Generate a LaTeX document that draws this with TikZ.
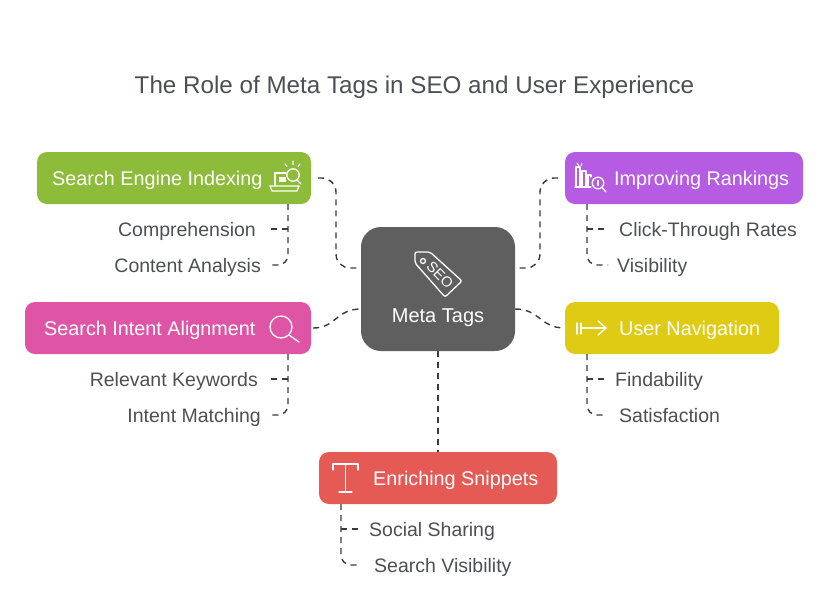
\documentclass[tikz,border=0pt]{standalone}
\usepackage{fontspec}
\setmainfont{Liberation Sans}
\usepackage{tikz}

\definecolor{leafgreen}{HTML}{8DBB3A}
\definecolor{rankpurple}{HTML}{B55CE2}
\definecolor{intentpink}{HTML}{DE55A6}
\definecolor{navyellow}{HTML}{E0CB14}
\definecolor{snipred}{HTML}{E55A55}
\definecolor{hubgray}{HTML}{5F5F5F}
\definecolor{inkgray}{HTML}{4C4F54}
\definecolor{linkgray}{HTML}{3A3A3A}

\tikzset{
	tagbox/.style={draw=none, rounded corners=10pt, minimum height=52pt, inner sep=0pt},
	boxtext/.style={anchor=west, inner sep=0pt, text=white, text height=14pt, text depth=0pt, font=\fontsize{19.8}{22}\selectfont},
	subtext/.style={inner sep=0pt, text=inkgray, text height=14pt, text depth=0pt, font=\fontsize{19.5}{22}\selectfont},
	link/.style={draw=linkgray, line width=1.4pt, dash pattern=on 6pt off 5pt},
	icon/.style={draw=white, line width=1.3pt, line cap=round, line join=round}
}

\begin{document}
\begin{tikzpicture}[x=1pt,y=-1pt]
	\useasboundingbox (0,0) rectangle (828,606);
	
	% Title
	\node[inner sep=0pt, text=inkgray, text height=17pt, text depth=0pt, font=\fontsize{24.2}{28}\selectfont] (title) at (414.5,85) {The Role of Meta Tags in SEO and User Experience};
	
	% Central box
	\node[fill=hubgray, rounded corners=20pt, minimum width=154pt, minimum height=124pt, inner sep=0pt] (hub) at (438,289) {};
	\node[inner sep=0pt, text=white, text height=14pt, text depth=0pt, font=\fontsize{20}{22}\selectfont] (hubtext) at (438,315) {Meta Tags};
	
	% Coloured boxes
	\node[tagbox, fill=leafgreen, minimum width=274pt] (engine) at (174,178) {};
	\node[tagbox, fill=rankpurple, minimum width=238pt] (rank) at (684,178) {};
	\node[tagbox, fill=intentpink, minimum width=286pt] (intent) at (168,328) {};
	\node[tagbox, fill=navyellow, minimum width=214pt] (nav) at (672,328) {};
	\node[tagbox, fill=snipred, minimum width=238pt] (snip) at (438,478) {};
	
	% Box labels
	\node[boxtext] (enginetext) at (52,178) {Search Engine Indexing};
	\node[boxtext] (ranktext) at (614,178) {Improving Rankings};
	\node[boxtext] (intenttext) at (44,328) {Search Intent Alignment};
	\node[boxtext] (navtext) at (619,328) {User Navigation};
	\node[boxtext] (sniptext) at (373,478) {Enriching Snippets};
	
	% Sub labels
	\node[subtext, anchor=east] (compre) at (256,229) {Comprehension};
	\node[subtext, anchor=east] (content) at (261,265) {Content Analysis};
	\node[subtext, anchor=west] (click) at (619,229) {Click-Through Rates};
	\node[subtext, anchor=west] (visib) at (617,265) {Visibility};
	\node[subtext, anchor=east] (keywords) at (258,379) {Relevant Keywords};
	\node[subtext, anchor=east] (matching) at (261,415) {Intent Matching};
	\node[subtext, anchor=west] (find) at (615,379) {Findability};
	\node[subtext, anchor=west] (satis) at (619,415) {Satisfaction};
	\node[subtext, anchor=west] (social) at (369,529) {Social Sharing};
	\node[subtext, anchor=west] (searchvis) at (374,565) {Search Visibility};
	
	% Anchor points on the central box
	\coordinate (hubnw) at (361,268);
	\coordinate (hubne) at (515,268);
	\coordinate (hubsw) at (361,309);
	\coordinate (hubse) at (515,309);
	
	% Points where the side links leave the trunks
	\coordinate (enginejoin) at (288,229);
	\coordinate (rankjoin) at (587,229);
	\coordinate (intentjoin) at (288,379);
	\coordinate (navjoin) at (587,379);
	\coordinate (snipjoin) at (341,529);
	
	% Links from the central box
	\draw[link, rounded corners=14pt, shorten <=7pt] (engine.east) -- (336,178) -- (336,268) -- (hubnw);
	\draw[link, rounded corners=14pt, shorten <=7pt] (rank.west) -- (540,178) -- (540,268) -- (hubne);
	\draw[link, shorten <=2pt] (intent.east) .. controls (336,328) and (336,309) .. (hubsw);
	\draw[link] (hubse) .. controls (540,309) and (540,328) .. (nav.west);
	\draw[link] (hub.south) -- (snip.north);
	
	% Trunks under the boxes
	\draw[link, rounded corners=10pt] (enginejoin |- engine.south) -- (288,265) -- ([xshift=9pt]content.east);
	\draw[link, rounded corners=10pt] (rankjoin |- rank.south) -- (587,265) -- ([xshift=-9pt]visib.west);
	\draw[link, rounded corners=10pt] (intentjoin |- intent.south) -- (288,415) -- ([xshift=9pt]matching.east);
	\draw[link, rounded corners=10pt] (navjoin |- nav.south) -- (587,415) -- ([xshift=-12pt]satis.west);
	\draw[link, rounded corners=10pt] (snipjoin |- snip.south) -- (341,565) -- ([xshift=-14pt]searchvis.west);
	
	% Side links
	\draw[link, shorten >=14pt] (enginejoin) -- (compre.east);
	\draw[link, shorten >=12pt] (rankjoin) -- (click.west);
	\draw[link, shorten >=12pt] (intentjoin) -- (keywords.east);
	\draw[link, shorten >=9pt] (navjoin) -- (find.west);
	\draw[link, shorten >=9pt] (snipjoin) -- (social.west);
	
	% Tag icon
	\draw[icon, rounded corners=2pt] (415,252) -- (430,252) -- (462,281) -- (445,297) -- (415,263) -- cycle;
	\draw[icon] (423,261) circle (2.5);
	\node[inner sep=0pt, rotate=-45, text=white, font=\fontsize{14.5}{16}\selectfont] (seotext) at (440,275) {SEO};
	
	% Laptop and lens icon
	\draw[icon] (275,186) -- (275,173) -- (286,173);
	\draw[icon] (270,186) -- (299,186) -- (297,191) -- (272,191) -- cycle;
	\fill[white] (279,177) rectangle (286,182);
	\draw[icon] (293,175) circle (6.2);
	\draw[icon] (297,180) -- (301,184);
	\draw[icon] (285,164) -- (287,166.5) (293,161) -- (293,164.5) (300,164) -- (298,166.5);
	
	% Bars and lens icon
	\draw[icon, line width=1.1pt] (576,187) -- (576,167) -- (580,167) -- (580,187);
	\draw[icon, line width=1.1pt] (582,187) -- (582,171) -- (586,171) -- (586,187);
	\draw[icon, line width=1.1pt] (588,187) -- (588,175) -- (591,175) -- (591,177);
	\draw[icon] (575,187) -- (591,187);
	\draw[icon] (598,183) circle (5.8);
	\draw[icon] (602,187.5) -- (606,192);
	\draw[icon, line width=1.2pt] (598,180.5) -- (598,185.5);
	\draw[icon, line width=1pt] (577,163) -- (579,166) (582,163.5) -- (581,166);
	
	% Magnifier icon
	\draw[icon] (281,327) circle (11);
	\draw[icon] (289,335) -- (299,342);
	
	% Arrow icon
	\draw[icon] (577,323) -- (577,334) (581,323) -- (581,334);
	\draw[icon] (581,328) -- (606,328);
	\draw[icon] (598,321) -- (606,328) -- (598,335);
	
	% T icon
	\draw[icon] (333,470) -- (333,464) -- (358,464) -- (358,470);
	\draw[icon] (345.5,464) -- (345.5,492);
	\draw[icon] (339,492) -- (352,492);
\end{tikzpicture}
\end{document}
